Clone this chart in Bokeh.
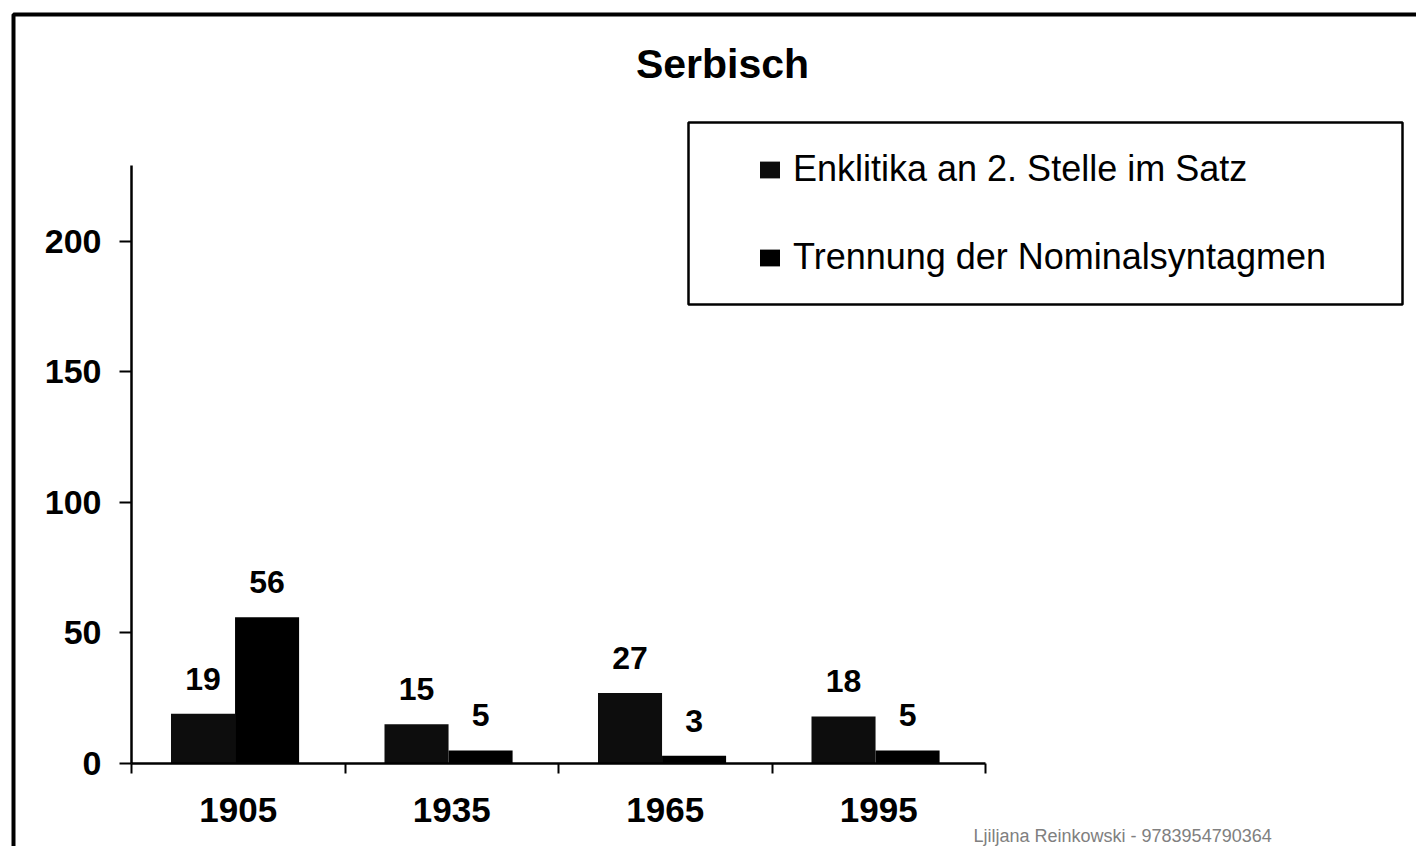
from bokeh.plotting import figure
from bokeh.models import (ColumnDataSource, LabelSet, Label, FixedTicker, BoxAnnotation,
                          Range1d, Legend, LegendItem)
from bokeh.core.properties import value
from bokeh.embed import file_html
from bokeh.resources import INLINE

# ---- data ----
title_text = "Serbisch"
years = ["1905", "1935", "1965", "1995"]
enklitika = [19, 15, 27, 18]
trennung = [56, 5, 3, 5]
series_names = ["Enklitika an 2. Stelle im Satz", "Trennung der Nominalsyntagmen"]
y_ticks = [0, 50, 100, 150, 200]
y_axis_top = 229
watermark = "Ljiljana Reinkowski - 9783954790364"

# ---- layout (pixels) ----
W, H = 1416, 846
AX_X0, AX_X1 = 131, 985      # pixel span of the x axis (category boundaries)
AX_Y0 = 763                  # pixel row of y = 0
PX_PER_UNIT_Y = 2.612

FONT = "Liberation Sans"
n = len(years)
px_per_cat = (AX_X1 - AX_X0) / n
x_start = -AX_X0 / px_per_cat
x_end = x_start + W / px_per_cat
y_start = -(H - AX_Y0) / PX_PER_UNIT_Y
y_end = y_start + H / PX_PER_UNIT_Y

centers = [i + 0.5 for i in range(n)]
bw = 0.3
shift = -0.015   # groups sit slightly left of the category centre

src1 = ColumnDataSource(dict(x=[c + shift - bw / 2 for c in centers], top=enklitika,
                             label=[str(v) for v in enklitika]))
src2 = ColumnDataSource(dict(x=[c + shift + bw / 2 for c in centers], top=trennung,
                             label=[str(v) for v in trennung]))

p = figure(width=W, height=H, output_backend="svg", toolbar_location=None,
           x_range=Range1d(x_start, x_end), y_range=Range1d(y_start, y_end),
           min_border=0, min_border_left=0, min_border_right=0,
           min_border_top=0, min_border_bottom=0,
           background_fill_color="white", border_fill_color="white")
p.outline_line_color = None
p.grid.visible = False

r1 = p.vbar(x="x", top="top", width=bw, bottom=0, source=src1,
            fill_color="#0d0d0d", line_color=None)
r2 = p.vbar(x="x", top="top", width=bw, bottom=0, source=src2,
            fill_color="black", line_color=None)

# x axis (drawn inside the frame at y = 0)
xa = p.xaxis[0]
xa.fixed_location = 0
xa.bounds = (0, n)
xa.ticker = FixedTicker(ticks=centers, minor_ticks=list(range(n + 1)))
xa.major_label_overrides = {c: y for c, y in zip(centers, years)}
xa.major_tick_out = 0
xa.major_tick_in = 0
xa.minor_tick_out = 10
xa.minor_tick_in = 0
xa.minor_tick_line_color = "black"
xa.minor_tick_line_width = 2
xa.axis_line_color = "black"
xa.axis_line_width = 2.5
xa.major_label_standoff = 24
xa.major_label_text_font = FONT
xa.major_label_text_font_size = "35px"
xa.major_label_text_font_style = "bold"
xa.major_label_text_color = "black"

# y axis (drawn inside the frame at x = 0)
ya = p.yaxis[0]
ya.fixed_location = 0
ya.bounds = (0, y_axis_top)
ya.ticker = FixedTicker(ticks=y_ticks)
ya.major_tick_out = 12
ya.major_tick_in = 0
ya.minor_tick_out = 0
ya.minor_tick_in = 0
ya.major_tick_line_color = "black"
ya.major_tick_line_width = 2
ya.axis_line_color = "black"
ya.axis_line_width = 2.5
ya.major_label_standoff = 18
ya.major_label_text_font = FONT
ya.major_label_text_font_size = "34px"
ya.major_label_text_font_style = "bold"
ya.major_label_text_color = "black"

# data labels
for src in (src1, src2):
    p.add_layout(LabelSet(x="x", y="top", text="label", source=src, y_offset=24,
                          text_align="center", text_baseline="alphabetic",
                          text_font=value(FONT), text_font_size=value("32px"),
                          text_font_style="bold", text_color="black"))

# legend (glyphs + labels), framed by a separate box
legend = Legend(items=[LegendItem(label=series_names[0], renderers=[r1]),
                       LegendItem(label=series_names[1], renderers=[r2])],
                location=(747, H - 288), orientation="vertical", padding=10, margin=0,
                spacing=46, glyph_width=25, glyph_height=21, label_standoff=11,
                label_text_font=FONT, label_text_font_size="36px",
                label_text_color="black",
                border_line_alpha=0, background_fill_alpha=0)
p.add_layout(legend, "center")

legend_box = BoxAnnotation(left=688, right=1402, top=122, bottom=304,
                           left_units="canvas", right_units="canvas",
                           top_units="canvas", bottom_units="canvas",
                           fill_alpha=0, line_color="black", line_alpha=1,
                           line_width=2.5, level="overlay")
p.add_layout(legend_box)

outer_box = BoxAnnotation(left=13, right=1600, top=14, bottom=1200,
                          left_units="canvas", right_units="canvas",
                          top_units="canvas", bottom_units="canvas",
                          fill_alpha=0, line_color="black", line_alpha=1,
                          line_width=4, level="overlay")
p.add_layout(outer_box)

# title
p.add_layout(Label(x=722, y=63, x_units="canvas", y_units="canvas", text=title_text,
                   text_align="center", text_baseline="middle",
                   text_font=FONT, text_font_size="41px", text_font_style="bold",
                   text_color="black"))

# watermark
p.add_layout(Label(x=973, y=835, x_units="canvas", y_units="canvas", text=watermark,
                   text_align="left", text_baseline="middle",
                   text_font=FONT, text_font_size="18px", text_color="#808080"))

open("out.html", "w").write(file_html(p, INLINE))
